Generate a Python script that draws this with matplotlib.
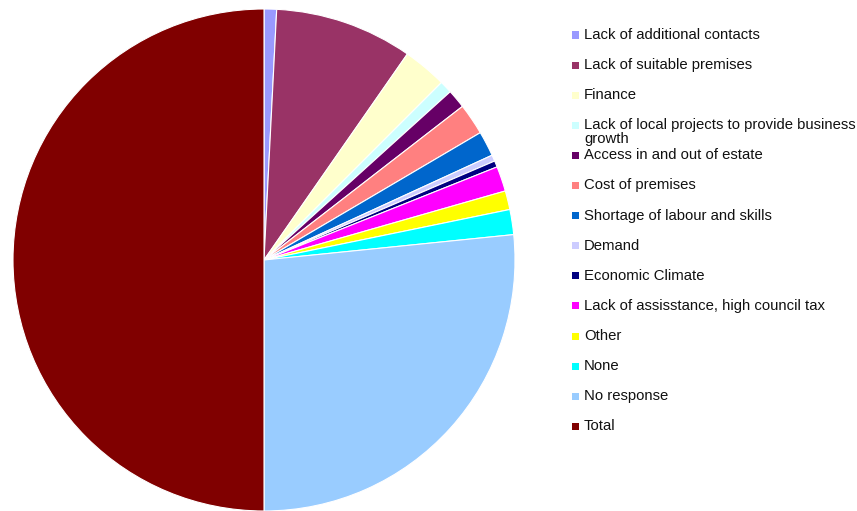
import matplotlib
matplotlib.use('Agg')
import matplotlib.pyplot as plt
from matplotlib.patches import Rectangle

plt.rcParams['font.family'] = ['Liberation Sans', 'DejaVu Sans']

# survey responses: barriers to business growth
categories = [
    'Lack of additional contacts',
    'Lack of suitable premises',
    'Finance',
    'Lack of local projects to provide business\ngrowth',
    'Access in and out of estate',
    'Cost of premises',
    'Shortage of labour and skills',
    'Demand',
    'Economic Climate',
    'Lack of assisstance, high council tax',
    'Other',
    'None',
    'No response',
    'Total',
]
counts = [2, 22, 7, 2, 3, 5, 4, 1, 1, 4, 3, 4, 66, 124]
colors = [
    '#9999FF', '#993366', '#FFFFCC', '#CCFFFF', '#660066', '#FF8080',
    '#0066CC', '#CCCCFF', '#000080', '#FF00FF', '#FFFF00', '#00FFFF',
    '#99CCFF', '#800000',
]

W, H = 857, 511
fig = plt.figure(figsize=(W / 100, H / 100), dpi=100)
ax = fig.add_axes([13 / W, 0, 502 / W, 502 / H])
ax.pie(counts, colors=colors, startangle=90, counterclock=False,
       wedgeprops={'edgecolor': 'white', 'linewidth': 0.8})
ax.set_xlim(-1, 1)
ax.set_ylim(-1, 1)
ax.set_aspect('equal')

# legend drawn as a column of swatches and labels
row_top = 35
row_step = 30.1
for i, (name, col) in enumerate(zip(categories, colors)):
    yc = 1 - (row_top + i * row_step) / H
    fig.add_artist(Rectangle((572 / W, yc - 3.5 / H), 7 / W, 7 / H,
                             transform=fig.transFigure, facecolor=col,
                             edgecolor='none'))
    if '\n' in name:
        fig.text(584 / W, yc + 7 / H, name, fontsize=10.7, va='top',
                 ha='left', color='#111111', linespacing=1.0)
    else:
        fig.text(584 / W, yc, name, fontsize=10.7, va='center',
                 ha='left', color='#111111')

fig.savefig('out.png', dpi=100)
